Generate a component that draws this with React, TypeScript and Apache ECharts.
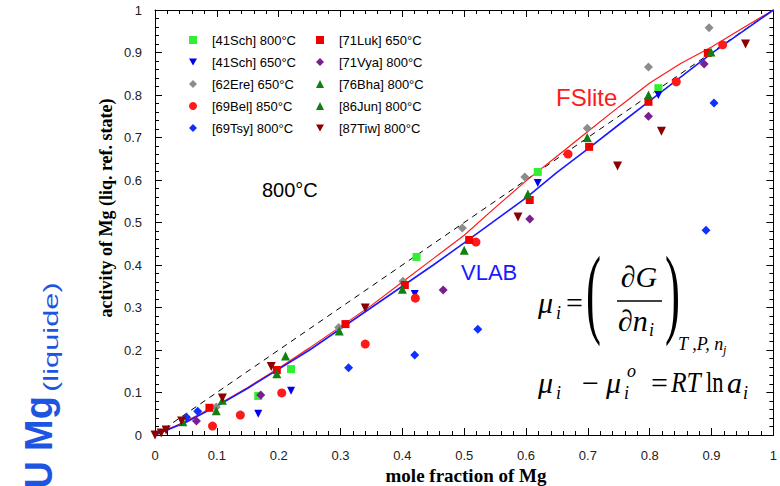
import React, { useEffect, useRef } from "react";
import * as echarts from "echarts";

// ---- data ----
const curveX = [0, 0.05, 0.1, 0.15, 0.2, 0.25, 0.3, 0.35, 0.4, 0.45, 0.5, 0.55, 0.6, 0.65, 0.7, 0.75, 0.8, 0.85, 0.9, 0.95, 1];
const fsliteY = [0, 0.032, 0.07, 0.112, 0.157, 0.205, 0.255, 0.305, 0.36, 0.415, 0.47, 0.535, 0.598, 0.656, 0.714, 0.772, 0.828, 0.874, 0.913, 0.957, 1];
const vlabY = [0, 0.03, 0.068, 0.11, 0.155, 0.2, 0.25, 0.3, 0.35, 0.4, 0.452, 0.505, 0.558, 0.618, 0.673, 0.73, 0.786, 0.842, 0.898, 0.949, 1];
const idealX = [0, 1];
const idealY = [0, 1];

const sch800 = [[0.167, 0.092], [0.22, 0.155], [0.423, 0.419], [0.619, 0.619], [0.814, 0.816]];
const sch650 = [[0.167, 0.05], [0.22, 0.104], [0.42, 0.332], [0.619, 0.593], [0.814, 0.8]];
const ere650 = [[0.099, 0.066], [0.297, 0.253], [0.401, 0.362], [0.497, 0.487], [0.598, 0.607], [0.699, 0.722], [0.798, 0.866], [0.896, 0.958]];
const bel850 = [[0.093, 0.021], [0.138, 0.047], [0.205, 0.099], [0.34, 0.214], [0.421, 0.322], [0.519, 0.454], [0.668, 0.661], [0.843, 0.831], [0.918, 0.918]];
const tsy800 = [[0.051, 0.042], [0.069, 0.056], [0.313, 0.158], [0.42, 0.188], [0.522, 0.249], [0.891, 0.482], [0.904, 0.781]];
const luk650 = [[0.088, 0.064], [0.197, 0.153], [0.308, 0.261], [0.404, 0.353], [0.508, 0.459], [0.606, 0.553], [0.702, 0.678], [0.798, 0.784], [0.894, 0.899]];
const vya800 = [[0.067, 0.033], [0.171, 0.094], [0.466, 0.341], [0.606, 0.508], [0.798, 0.75], [0.888, 0.873]];
const bha800 = [[0.099, 0.057], [0.211, 0.186], [0.4, 0.343], [0.603, 0.567], [0.699, 0.7], [0.899, 0.901]];
const jun800 = [[0.045, 0.031], [0.109, 0.082], [0.197, 0.144], [0.298, 0.245], [0.5, 0.435], [0.798, 0.8]];
const tiw800 = [[0, 0], [0.01, 0.005], [0.018, 0.012], [0.043, 0.033], [0.109, 0.087], [0.188, 0.161], [0.34, 0.299], [0.587, 0.513], [0.748, 0.633], [0.819, 0.715], [0.955, 0.92]];

const legendLeft = ["[41Sch] 800°C", "[41Sch] 650°C", "[62Ere] 650°C", "[69Bel] 850°C", "[69Tsy] 800°C"];
const legendRight = ["[71Luk] 650°C", "[71Vya] 800°C", "[76Bha] 800°C", "[86Jun] 800°C", "[87Tiw] 800°C"];
const downTriangleNames = ["[41Sch] 650°C", "[87Tiw] 800°C"];

const SERIF = "'Liberation Serif', 'Times New Roman', serif";
const SANS = "'Liberation Sans', Arial, sans-serif";
const DOWN_TRI = "path://M0,0L10,0L5,9Z";

function txt(text: string, x: number, y: number, size: number, extra: any = {}, el: any = {}) {
  return {
    type: "text",
    x,
    y,
    z: 100,
    ...el,
    style: {
      text,
      fontSize: size,
      fontFamily: SERIF,
      fill: "#000",
      align: "left",
      verticalAlign: "middle",
      ...extra,
    },
  };
}

function scatter(name: string, data: number[][], symbol: string, color: string, rotate = 0, size = 8) {
  return {
    name,
    type: "scatter",
    data,
    symbol,
    symbolSize: size,
    symbolRotate: rotate,
    itemStyle: { color, opacity: 1 },
    z: 5,
  };
}

function legendData(names: string[]) {
  return names.map((n) => (downTriangleNames.includes(n) ? { name: n, icon: DOWN_TRI } : { name: n }));
}

export default function App() {
  const ref = useRef<HTMLDivElement>(null);
  useEffect(() => {
    if (!ref.current) return;
    const chart = echarts.init(ref.current, null, { renderer: "svg" });
    const axisCommon = {
      type: "value",
      min: 0,
      max: 1,
      interval: 0.1,
      axisLine: { show: true, onZero: false, lineStyle: { color: "#000", width: 1 } },
      axisTick: { show: true, inside: true, length: 7, lineStyle: { color: "#000", width: 1 } },
      minorTick: { show: true, splitNumber: 5, length: 4, lineStyle: { color: "#000", width: 1 } },
      splitLine: { show: false },
    };
    const legendCommon = {
      orient: "vertical",
      top: 28,
      itemWidth: 8,
      itemHeight: 8,
      itemGap: 8,
      textStyle: { fontSize: 13, fontFamily: SANS, color: "#000", lineHeight: 14, padding: [0, 0, 0, 10] },
    };
    const option: any = {
      animation: false,
      backgroundColor: "#fff",
      grid: { left: 155, right: 1, top: 10, bottom: 51 },
      xAxis: [
        { ...axisCommon, position: "bottom", axisLabel: { margin: 14, fontSize: 13, fontFamily: SANS, color: "#222" } },
        { ...axisCommon, position: "top", axisLabel: { show: false } },
      ],
      yAxis: [
        { ...axisCommon, position: "left", axisLabel: { margin: 13, fontSize: 13, fontFamily: SANS, color: "#222" } },
        { ...axisCommon, position: "right", axisLabel: { show: false } },
      ],
      legend: [
        { ...legendCommon, left: 184, data: legendData(legendLeft) },
        { ...legendCommon, left: 311, data: legendData(legendRight) },
      ],
      series: [
        {
          type: "line",
          data: idealX.map((x, i) => [x, idealY[i]]),
          symbol: "none",
          lineStyle: { color: "#000", width: 1, type: [6, 5] },
          z: 2,
        },
        {
          type: "line",
          data: curveX.map((x, i) => [x, fsliteY[i]]),
          symbol: "none",
          lineStyle: { color: "#ff1a1a", width: 1.2 },
          z: 3,
        },
        {
          type: "line",
          data: curveX.map((x, i) => [x, vlabY[i]]),
          symbol: "none",
          lineStyle: { color: "#1a1aff", width: 1.6 },
          z: 4,
        },
        scatter(legendLeft[0], sch800, "rect", "#33ee33", 0, 8),
        scatter(legendLeft[1], sch650, "triangle", "#0000ee", 180, 8),
        scatter(legendLeft[2], ere650, "diamond", "#8c8c8c", 0, 9),
        scatter(legendLeft[3], bel850, "circle", "#ff1a1a", 0, 9),
        scatter(legendLeft[4], tsy800, "diamond", "#1030ff", 0, 9),
        scatter(legendRight[0], luk650, "rect", "#ee0000", 0, 8),
        scatter(legendRight[1], vya800, "diamond", "#7b1f8f", 0, 9),
        scatter(legendRight[2], bha800, "triangle", "#108010", 0, 9),
        scatter(legendRight[3], jun800, "triangle", "#108010", 0, 9),
        scatter(legendRight[4], tiw800, "triangle", "#8b0000", 180, 9),
      ],
      graphic: [
        txt("activity of Mg (liq. ref. state)", 106, 208, 18, { fontWeight: "bold", align: "center" }, { rotation: Math.PI / 2 }),
        txt("mole fraction of Mg", 466, 475, 19, { fontWeight: "bold", align: "center" }),
        txt("FSlite", 556, 97, 24, { fontFamily: SANS, fill: "#ff1a1a" }),
        txt("VLAB", 461, 272, 22, { fontFamily: SANS, fill: "#1a1aff" }),
        txt("800°C", 262, 190, 20, { fontFamily: SANS }),
        // formula 1
        txt("μ", 538, 302, 30, { fontStyle: "italic" }),
        txt("i", 556, 313, 18, { fontStyle: "italic" }),
        txt("=", 566, 302, 30),
        txt("(", 586, 292, 45, {}, { scaleY: 2.2 }),
        txt("∂G", 639, 276, 30, { fontStyle: "italic", align: "center" }),
        { type: "line", z: 100, shape: { x1: 617, y1: 301, x2: 662, y2: 301 }, style: { stroke: "#000", lineWidth: 1.5 } },
        txt("∂n", 618, 320, 30, { fontStyle: "italic" }),
        txt("i", 649, 330, 18, { fontStyle: "italic" }),
        txt(")", 665, 292, 45, {}, { scaleY: 2.2 }),
        txt("T ,P, n", 678, 344, 18, { fontStyle: "italic" }),
        txt("j", 723, 350, 12, { fontStyle: "italic" }),
        // formula 2
        txt("μ", 538, 382, 30, { fontStyle: "italic" }),
        txt("i", 556, 393, 18, { fontStyle: "italic" }),
        txt("−", 582, 382, 30),
        txt("μ", 606, 382, 30, { fontStyle: "italic" }),
        txt("i", 624, 393, 18, { fontStyle: "italic" }),
        txt("o", 627, 371, 18, { fontStyle: "italic" }),
        txt("=", 651, 382, 30),
        txt("RT", 671, 382, 30, { fontStyle: "italic" }, { scaleX: 0.85 }),
        txt("ln", 706, 382, 30, {}, { scaleX: 0.75 }),
        txt("a", 727, 382, 30, { fontStyle: "italic" }),
        txt("i", 743, 393, 18, { fontStyle: "italic" }),
        // clipped blue caption at the left edge
        txt("DU", 39, 461, 38, { fontFamily: SANS, fontWeight: "bold", fill: "#1e55e0", align: "right" }, { rotation: Math.PI / 2 }),
        txt("Mg", 39, 451, 38, { fontFamily: SANS, fontWeight: "bold", fill: "#1e55e0" }, { rotation: Math.PI / 2 }),
        txt("(liquide)", 51, 392, 21, { fontFamily: SANS, fill: "#1e55e0" }, { rotation: Math.PI / 2, scaleX: 1.47 }),
      ],
    };
    chart.setOption(option);
    return () => chart.dispose();
  }, []);
  return <div ref={ref} style={{ position: "fixed", left: 0, top: 0, width: 780, height: 486, background: "#fff" }} />;
}
